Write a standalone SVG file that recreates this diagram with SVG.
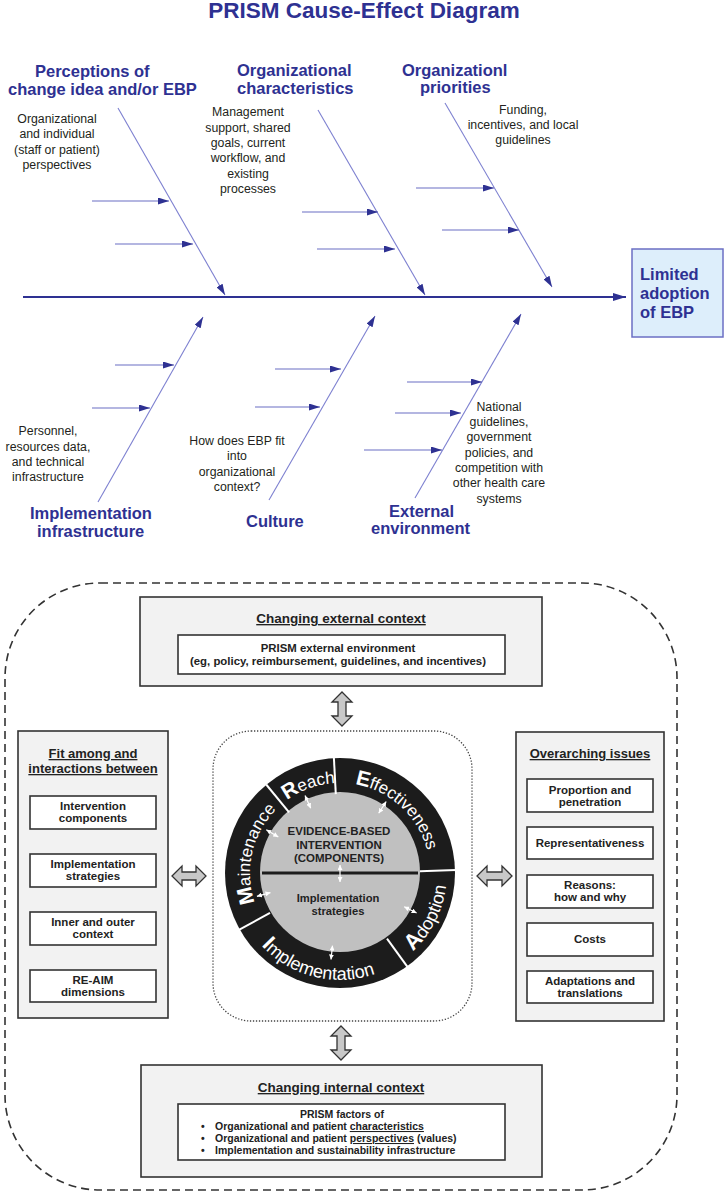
<svg xmlns="http://www.w3.org/2000/svg" width="725" height="1196" viewBox="0 0 725 1196">
<style>
.ttl{font-family:"Liberation Sans",Arial,sans-serif;font-weight:bold;fill:#2e3192}
.cat{font-family:"Liberation Sans",Arial,sans-serif;font-weight:bold;font-size:16.5px;fill:#2e3192}
.note{font-family:"Liberation Sans",Arial,sans-serif;font-size:12.3px;fill:#231f20;text-anchor:middle}
.bone{stroke:#7d80d0;stroke-width:1.1;fill:none}
.tw{stroke:#6b6fc4;stroke-width:1.1;fill:none}
.spine{stroke:#2e3192;stroke-width:2;fill:none}
.box{fill:#f2f2f2;stroke:#333;stroke-width:1.6}
.ibox{fill:#fff;stroke:#333;stroke-width:1.6}
.bt{font-family:"Liberation Sans",Arial,sans-serif;font-weight:bold;fill:#222;text-anchor:middle}
.hd{font-size:13px;text-decoration:underline}
.sm{font-size:11.5px}
.xs{font-size:10.5px}
.dbl{fill:#c8c8c8;stroke:#333;stroke-width:1.3}
.ring{font-family:"Liberation Sans",Arial,sans-serif;font-size:17px;fill:#fff}
.ringb{font-family:"Liberation Sans",Arial,sans-serif;font-size:18px;fill:#fff}
.div{stroke:#fff;stroke-width:2}
.wa{stroke:#fff;stroke-width:1.2}
</style>
<defs>
<marker id="ah" viewBox="0 0 11 7" refX="11" refY="3.5" markerWidth="11" markerHeight="7" markerUnits="userSpaceOnUse" orient="auto"><path d="M0,0 L11,3.5 L0,7 z" fill="#2e3192"/></marker>
<marker id="ahb" viewBox="0 0 13 8" refX="13" refY="4" markerWidth="13" markerHeight="8" markerUnits="userSpaceOnUse" orient="auto"><path d="M0,0 L13,4 L0,8 z" fill="#2e3192"/></marker>
<marker id="wh" viewBox="0 0 6 6" refX="6" refY="3" markerWidth="5" markerHeight="5" markerUnits="userSpaceOnUse" orient="auto-start-reverse"><path d="M0,0 L6,3 L0,6 z" fill="#fff"/></marker>
<path id="pa" d="M271.06,930.85 A90,90 0 1,1 428.63,888.63"/>
<path id="pb" d="M234.6,891.6 A107,107 0 1,0 422.0,804.2"/>
</defs>

<rect width="725" height="1196" fill="#fff"/>

<g id="title"><text class="ttl" x="364" y="18" text-anchor="middle" font-size="22.5">PRISM Cause-Effect Diagram</text></g>

<g id="connectors">
  <line class="spine" x1="23" y1="297" x2="626" y2="297" marker-end="url(#ahb)"/>
  <line class="bone" x1="118" y1="108" x2="225" y2="295" marker-end="url(#ah)"/>
  <line class="bone" x1="318" y1="110" x2="425" y2="295" marker-end="url(#ah)"/>
  <line class="bone" x1="445" y1="103" x2="552" y2="287" marker-end="url(#ah)"/>
  <line class="bone" x1="98" y1="502" x2="203" y2="317" marker-end="url(#ah)"/>
  <line class="bone" x1="269" y1="500" x2="375" y2="316" marker-end="url(#ah)"/>
  <line class="bone" x1="415" y1="498" x2="521" y2="314" marker-end="url(#ah)"/>
  <line class="tw" x1="92" y1="201" x2="169" y2="201" marker-end="url(#ah)"/>
  <line class="tw" x1="115" y1="244" x2="193" y2="244" marker-end="url(#ah)"/>
  <line class="tw" x1="302" y1="212" x2="378" y2="212" marker-end="url(#ah)"/>
  <line class="tw" x1="317" y1="249" x2="395" y2="249" marker-end="url(#ah)"/>
  <line class="tw" x1="416" y1="188" x2="494" y2="188" marker-end="url(#ah)"/>
  <line class="tw" x1="442" y1="230" x2="519" y2="230" marker-end="url(#ah)"/>
  <line class="tw" x1="115" y1="365" x2="174" y2="365" marker-end="url(#ah)"/>
  <line class="tw" x1="92" y1="408" x2="150" y2="408" marker-end="url(#ah)"/>
  <line class="tw" x1="275" y1="369" x2="341" y2="369" marker-end="url(#ah)"/>
  <line class="tw" x1="255" y1="407" x2="320" y2="407" marker-end="url(#ah)"/>
  <line class="tw" x1="407" y1="382" x2="482" y2="382" marker-end="url(#ah)"/>
  <line class="tw" x1="395" y1="413" x2="461" y2="413" marker-end="url(#ah)"/>
  <line class="tw" x1="364" y1="450" x2="442" y2="450" marker-end="url(#ah)"/>
  <polygon class="dbl" points="342,692 352,702 346,702 346,716 352,716 342,726 332,716 338,716 338,702 332,702"/>
  <polygon class="dbl" points="341,1026 351,1036 345,1036 345,1050 351,1050 341,1060 331,1050 337,1050 337,1036 331,1036"/>
  <polygon class="dbl" points="172,876 182,866 182,872 196,872 196,866 206,876 196,886 196,880 182,880 182,886"/>
  <polygon class="dbl" points="477,876 487,866 487,872 502,872 502,866 512,876 502,886 502,880 487,880 487,886"/>
</g>

<g id="cat-perceptions" class="cat">
  <text x="35" y="77">Perceptions of</text>
  <text x="8" y="95">change idea and/or EBP</text>
</g>
<g id="cat-orgchar" class="cat">
  <text x="237" y="76">Organizational</text>
  <text x="237" y="94">characteristics</text>
</g>
<g id="cat-orgprio" class="cat">
  <text x="402" y="76">Organizationl</text>
  <text x="420" y="93">priorities</text>
</g>
<g id="cat-infra" class="cat">
  <text x="30" y="519">Implementation</text>
  <text x="37" y="537">infrastructure</text>
</g>
<g id="cat-culture" class="cat"><text x="246" y="527">Culture</text></g>
<g id="cat-external" class="cat">
  <text x="389" y="517">External</text>
  <text x="371" y="534">environment</text>
</g>

<g id="note-perceptions" class="note">
  <text x="57" y="123">Organizational</text>
  <text x="57" y="138">and individual</text>
  <text x="57" y="154">(staff or patient)</text>
  <text x="57" y="169">perspectives</text>
</g>
<g id="note-orgchar" class="note">
  <text x="248" y="116">Management</text>
  <text x="248" y="131.5">support, shared</text>
  <text x="248" y="147">goals, current</text>
  <text x="248" y="162">workflow, and</text>
  <text x="248" y="177.5">existing</text>
  <text x="248" y="193">processes</text>
</g>
<g id="note-orgprio" class="note">
  <text x="523" y="114">Funding,</text>
  <text x="523" y="129">incentives, and local</text>
  <text x="523" y="144">guidelines</text>
</g>
<g id="note-infra" class="note">
  <text x="48" y="435">Personnel,</text>
  <text x="48" y="451">resources data,</text>
  <text x="48" y="466">and technical</text>
  <text x="48" y="481">infrastructure</text>
</g>
<g id="note-culture" class="note">
  <text x="237" y="445">How does EBP fit</text>
  <text x="237" y="460">into</text>
  <text x="237" y="476">organizational</text>
  <text x="237" y="491">context?</text>
</g>
<g id="note-external" class="note">
  <text x="499" y="411">National</text>
  <text x="499" y="426">guidelines,</text>
  <text x="499" y="441">government</text>
  <text x="499" y="457">policies, and</text>
  <text x="499" y="472">competition with</text>
  <text x="499" y="487">other health care</text>
  <text x="499" y="503">systems</text>
</g>

<g id="effect">
  <rect x="632" y="249" width="91" height="88" fill="#ddeefb" stroke="#6b6fc4" stroke-width="1.5"/>
  <text class="ttl" font-size="16.5" x="640" y="280">Limited</text>
  <text class="ttl" font-size="16.5" x="640" y="299">adoption</text>
  <text class="ttl" font-size="16.5" x="640" y="318">of EBP</text>
</g>

<g id="outer-context">
  <rect x="5" y="583" width="672" height="607" rx="95" ry="95" fill="none" stroke="#333" stroke-width="1.6" stroke-dasharray="8 5"/>
</g>

<g id="external-context">
  <rect class="box" x="140" y="597" width="402" height="89"/>
  <text class="bt" x="341" y="623" font-size="13.5" text-decoration="underline">Changing external context</text>
  <rect class="ibox" x="178" y="635" width="327" height="39"/>
  <text class="bt" x="338" y="652" font-size="11.4">PRISM external environment</text>
  <text class="bt" x="338" y="665" font-size="11.4">(eg, policy, reimbursement, guidelines, and incentives)</text>
</g>

<g id="fit-box">
  <rect class="box" x="18" y="731" width="150" height="287"/>
  <text class="bt hd" x="93" y="758">Fit among and</text>
  <text class="bt hd" x="93" y="773">interactions between</text>
  <rect class="ibox" x="30" y="796" width="126" height="33"/>
  <text class="bt sm" x="93" y="810">Intervention</text>
  <text class="bt sm" x="93" y="822">components</text>
  <rect class="ibox" x="30" y="854" width="126" height="33"/>
  <text class="bt sm" x="93" y="868">Implementation</text>
  <text class="bt sm" x="93" y="880">strategies</text>
  <rect class="ibox" x="30" y="912" width="126" height="33"/>
  <text class="bt sm" x="93" y="926">Inner and outer</text>
  <text class="bt sm" x="93" y="938">context</text>
  <rect class="ibox" x="30" y="970" width="126" height="32"/>
  <text class="bt sm" x="93" y="984">RE-AIM</text>
  <text class="bt sm" x="93" y="996">dimensions</text>
</g>

<g id="issues-box">
  <rect class="box" x="516" y="732" width="148" height="289"/>
  <text class="bt hd" x="590" y="758">Overarching issues</text>
  <rect class="ibox" x="527" y="779" width="126" height="33"/>
  <text class="bt sm" x="590" y="793.5">Proportion and</text>
  <text class="bt sm" x="590" y="805.5">penetration</text>
  <rect class="ibox" x="527" y="827" width="126" height="32"/>
  <text class="bt sm" x="590" y="847">Representativeness</text>
  <rect class="ibox" x="527" y="875" width="126" height="33"/>
  <text class="bt sm" x="590" y="889">Reasons:</text>
  <text class="bt sm" x="590" y="901">how and why</text>
  <rect class="ibox" x="527" y="923" width="126" height="33"/>
  <text class="bt sm" x="590" y="943">Costs</text>
  <rect class="ibox" x="527" y="971" width="126" height="32"/>
  <text class="bt sm" x="590" y="984.5">Adaptations and</text>
  <text class="bt sm" x="590" y="996.5">translations</text>
</g>

<g id="reaim">
  <rect x="213" y="731" width="259" height="290" rx="38" ry="38" fill="none" stroke="#444" stroke-width="1.3" stroke-dasharray="1.3 1.7"/>
  <circle cx="340" cy="873" r="115" fill="#1c1c1c"/>
  <circle cx="340" cy="872" r="80" fill="#c0c0c0"/>
  <line x1="262" y1="873" x2="418" y2="873" stroke="#1c1c1c" stroke-width="3"/>
  <line class="div" x1="335.8" y1="794.1" x2="333.9" y2="758"/>
  <line class="div" x1="289.1" y1="812.3" x2="266.2" y2="784.5"/>
  <line class="div" x1="420" y1="871.2" x2="456" y2="870"/>
  <line class="div" x1="387" y1="938.7" x2="408.2" y2="967.8"/>
  <line class="div" x1="270" y1="912.8" x2="238.5" y2="930.2"/>
  <text class="ring"><textPath href="#pa" startOffset="23%" text-anchor="middle"><tspan font-weight="bold" font-size="21">M</tspan>aintenance</textPath></text>
  <text class="ring"><textPath href="#pa" startOffset="48%" text-anchor="middle"><tspan font-weight="bold" font-size="21">R</tspan>each</textPath></text>
  <text class="ring"><textPath href="#pa" startOffset="75%" text-anchor="middle"><tspan font-weight="bold" font-size="21">E</tspan>ffectiveness</textPath></text>
  <text class="ringb"><textPath href="#pb" startOffset="31.4%" text-anchor="middle"><tspan font-weight="bold" font-size="22">I</tspan>mplementation</textPath></text>
  <text class="ringb"><textPath href="#pb" startOffset="68.1%" text-anchor="middle"><tspan font-weight="bold" font-size="22">A</tspan>doption</textPath></text>
  <line class="wa" x1="310.7" y1="808.2" x2="305" y2="795.4" marker-start="url(#wh)" marker-end="url(#wh)"/>
  <line class="wa" x1="378.7" y1="813.3" x2="386.2" y2="801.5" marker-start="url(#wh)" marker-end="url(#wh)"/>
  <line class="wa" x1="278.3" y1="836.9" x2="266.3" y2="829.7" marker-start="url(#wh)" marker-end="url(#wh)"/>
  <line class="wa" x1="340" y1="865" x2="340" y2="882" marker-start="url(#wh)" marker-end="url(#wh)"/>
  <line class="wa" x1="270.5" y1="892.6" x2="256.9" y2="896.3" marker-start="url(#wh)" marker-end="url(#wh)"/>
  <line class="wa" x1="404.2" y1="906.7" x2="416.6" y2="913" marker-start="url(#wh)" marker-end="url(#wh)"/>
  <line class="wa" x1="332.5" y1="945.6" x2="331" y2="959.5" marker-start="url(#wh)" marker-end="url(#wh)"/>
  <text class="bt" x="339" y="835" font-size="11.5">EVIDENCE-BASED</text>
  <text class="bt" x="339" y="848.5" font-size="11.5">INTERVENTION</text>
  <text class="bt" x="339" y="862" font-size="11.5">(COMPONENTS)</text>
  <text class="bt" x="338" y="902" font-size="11.2">Implementation</text>
  <text class="bt" x="338" y="915" font-size="11.2">strategies</text>
</g>

<g id="internal-context">
  <rect class="box" x="141" y="1065" width="401" height="112"/>
  <text class="bt" x="341" y="1092" font-size="13.5" text-decoration="underline">Changing internal context</text>
  <rect class="ibox" x="178" y="1104" width="327" height="56"/>
  <text class="bt xs" x="342" y="1118">PRISM factors of</text>
  <g font-family="Liberation Sans, Arial, sans-serif" font-weight="bold" font-size="10.5" fill="#222">
    <text x="201" y="1130">•</text>
    <text x="215" y="1130">Organizational and patient <tspan text-decoration="underline">characteristics</tspan></text>
    <text x="201" y="1142">•</text>
    <text x="215" y="1142">Organizational and patient <tspan text-decoration="underline">perspectives</tspan> (values)</text>
    <text x="201" y="1154">•</text>
    <text x="215" y="1154">Implementation and sustainability infrastructure</text>
  </g>
</g>
</svg>
